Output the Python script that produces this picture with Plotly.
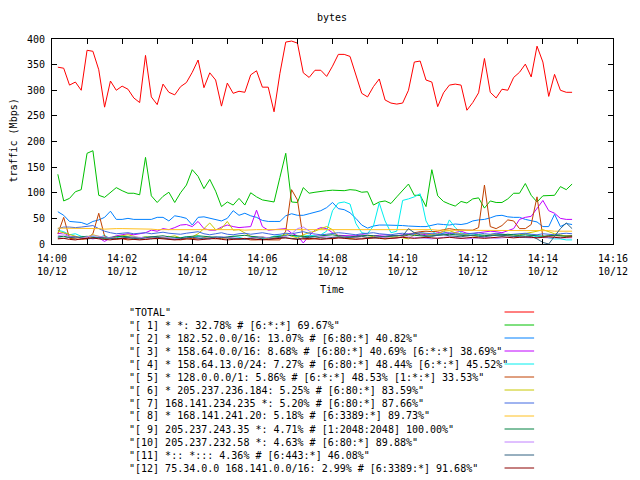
import pandas as pd
import plotly.graph_objects as go

# ---------------- data ----------------
times = pd.date_range("2009-10-12 14:00:10", periods=89, freq="10s")

names = [
    "TOTAL",
    "[ 1] * *: 32.78% # [6:*:*] 69.67%",
    "[ 2] * 182.52.0.0/16: 13.07% # [6:80:*] 40.82%",
    "[ 3] * 158.64.0.0/16: 8.68% # [6:80:*] 40.69% [6:*:*] 38.69%",
    "[ 4] * 158.64.13.0/24: 7.27% # [6:80:*] 48.44% [6:*:*] 45.52%",
    "[ 5] * 128.0.0.0/1: 5.86% # [6:*:*] 48.53% [1:*:*] 33.53%",
    "[ 6] * 205.237.236.184: 5.25% # [6:80:*] 83.59%",
    "[ 7] 168.141.234.235 *: 5.20% # [6:80:*] 87.66%",
    "[ 8] * 168.141.241.20: 5.18% # [6:3389:*] 89.73%",
    "[ 9] 205.237.243.35 *: 4.71% # [1:2048:2048] 100.00%",
    "[10] 205.237.232.58 *: 4.63% # [6:80:*] 89.88%",
    "[11] *:: *::: 4.36% # [6:443:*] 46.08%",
    "[12] 75.34.0.0 168.141.0.0/16: 2.99% # [6:3389:*] 91.68%",
]

total = [345,343,310,316,300,378,376,340,267,318, 300,308,302,285,276,368,287,272,312,296,
         291,307,315,335,359,305,334,320,269,314, 294,298,296,330,338,306,306,258,333,394,
         396,392,334,325,339,339,327,347,370,370, 366,329,294,287,307,322,281,275,273,275,
         300,355,357,320,316,268,295,310,312,310, 261,276,295,362,296,285,302,300,325,335,
         351,326,386,355,288,331,300,296,296]
s1 = [136,84,89,102,106,177,182,95,91,100, 110,104,99,99,96,169,94,81,93,101,
      81,100,115,145,132,108,126,103,73,82, 76,89,76,100,92,86,84,82,130,177,
      82,81,110,99,101,103,104,105,104,104, 106,105,101,102,76,82,84,79,92,104,
      117,95,95,73,145,94,83,78,74,83, 80,88,90,70,84,81,81,88,99,99,
      118,95,82,94,95,95,112,106,117]
s2 = [63,56,44,43,42,38,44,47,52,64, 48,48,50,48,48,48,48,52,52,45,
      55,53,50,37,52,53,50,48,45,50, 65,56,60,55,52,46,44,44,44,55,
      59,56,56,59,62,65,71,81,69,67, 61,50,37,31,35,37,37,37,37,36,
      35,34,34,34,36,39,38,37,39,38, 40,45,47,48,51,55,56,53,52,52,
      48,46,43,34,34,58,34,40,38]
s3 = [20,22,15,13,12,12,10,12,5,12, 16,18,20,18,20,22,27,25,30,28,
      32,37,38,34,44,30,27,27,33,37, 34,32,33,34,66,34,27,28,29,30,
      21,16,2,16,27,32,30,22,17,16, 16,16,18,17,16,17,18,17,16,18,
      20,19,20,18,19,22,24,20,22,25, 21,20,22,23,25,24,22,26,30,48,
      52,54,70,85,65,60,50,48,48]
s4 = [27,24,18,20,15,14,15,12,17,10, 12,15,13,10,12,14,10,13,12,15,
      11,12,14,12,15,12,10,13,14,12, 15,13,10,12,14,11,12,15,16,18,
      16,14,15,17,16,18,25,65,80,82, 78,40,22,20,35,80,45,22,25,85,
      88,92,98,45,25,18,20,47,32,22, 18,20,17,15,18,16,15,17,18,16,
      15,17,14,16,12,10,10,8,8]
s5 = [20,52,11,10,9,10,20,60,15,10, 9,10,8,9,10,9,11,10,12,10,
      9,8,10,11,10,12,11,10,11,12, 10,9,10,8,8,9,8,8,8,25,
      106,86,10,9,10,12,11,10,12,13, 11,12,10,11,12,13,12,11,12,14,
      18,22,24,25,24,25,28,30,28,27, 27,27,32,115,34,30,36,47,45,30,
      30,38,92,14,16,16,16,16,16]
s6 = [25,22,18,15,12,14,18,15,12,10, 14,16,18,15,12,14,13,15,12,14,
      16,12,10,14,20,30,41,28,30,44, 27,28,22,15,12,14,10,12,14,20,
      15,12,18,22,25,30,34,28,14,12, 10,12,11,13,15,12,10,12,14,12,
      10,18,22,20,18,20,25,26,22,20, 18,15,14,16,18,20,18,16,15,18,
      20,22,25,28,24,20,18,15,14]
s7 = [30,33,33,32,33,35,36,30,25,22, 20,21,22,20,21,22,20,22,23,21,
      20,19,21,22,24,20,18,20,22,19, 18,20,21,19,20,22,20,18,19,21,
      20,22,24,21,20,18,19,20,22,21, 19,18,20,21,22,20,19,18,20,21,
      19,20,22,21,20,19,21,22,20,19, 20,21,22,20,19,21,20,18,19,20,
      21,19,18,20,19,18,20,21,20]
s8 = [31,31,30,30,30,30,30,30,29,30, 30,30,30,30,29,29,29,28,28,28,
      29,29,29,28,28,28,28,28,28,28, 28,28,27,28,28,28,28,28,29,29,
      29,29,28,28,28,28,28,28,28,28, 28,28,29,29,29,28,28,28,28,28,
      29,29,29,28,28,27,27,27,27,27, 27,27,27,27,27,27,26,26,26,26,
      27,27,27,26,26,25,25,25,25]
s9 = [14,15,13,12,14,15,13,12,11,13, 14,15,14,13,12,13,14,15,16,14,
      13,12,14,15,16,15,14,13,12,14, 15,16,17,15,14,13,12,14,15,16,
      17,16,15,14,15,16,17,18,16,15, 14,15,16,17,16,15,14,15,16,17,
      18,17,16,15,16,17,18,19,18,17, 16,17,18,17,16,17,18,19,18,17,
      18,17,16,15,16,17,16,15,16]
s10 = [16,18,15,13,12,14,16,15,13,12, 11,10,12,14,13,12,11,13,14,12,
       11,10,12,13,12,11,10,12,14,13, 12,11,10,12,13,14,12,11,13,15,
       20,30,33,25,18,15,14,13,12,14, 13,12,11,12,13,14,12,11,12,13,
       14,13,12,11,10,12,13,14,12,11, 10,11,12,13,12,11,12,13,14,13,
       12,12,13,12,12,12,12,12,12]
s11 = [12,11,13,14,12,10,11,13,12,11, 10,12,13,11,10,12,14,13,11,10,
       9,11,12,13,11,10,12,14,13,12, 11,10,9,11,12,10,9,11,13,12,
       11,10,12,13,14,12,11,13,14,12, 13,14,15,13,12,14,15,16,17,16,
       30,22,18,16,15,17,18,16,15,14, 16,17,15,14,16,18,17,16,15,14,
       13,15,10,3,0,15,30,41,30]
s12 = [10,11,9,8,10,11,12,10,9,8, 10,11,10,9,8,9,10,11,10,9,
       8,9,10,9,8,9,10,11,9,8, 9,10,11,10,9,8,9,10,11,12,
       10,9,10,11,10,9,10,11,12,11, 10,9,10,11,12,11,10,11,12,13,
       12,11,12,13,12,11,12,13,12,11, 12,13,12,11,12,13,14,13,12,13,
       14,13,12,13,14,13,12,13,14]

series = [total, s1, s2, s3, s4, s5, s6, s7, s8, s9, s10, s11, s12]
colors = ["#ff0000", "#00c000", "#0080ff", "#c000ff", "#00eeee", "#c04000",
          "#c8c800", "#4169e1", "#ffc020", "#008040", "#c080ff", "#306080", "#8b0000"]

tick_minutes = list(range(0, 17))
tick_vals = [pd.Timestamp("2009-10-12 14:00") + pd.Timedelta(minutes=m) for m in tick_minutes]
tick_text = [f"14:{m:02d}<br>10/12" if m % 2 == 0 else "" for m in tick_minutes]
y_ticks = [0, 50, 100, 150, 200, 250, 300, 350, 400]

# ---------------- layout geometry (pixels) ----------------
W, H = 640, 480
L, R, T, B = 52, 621, 39, 244
FONT = "DejaVu Sans Mono"
FS = 10


def px(xp):
    return (xp - L) / (R - L)


def py(yp):
    return (B - yp) / (B - T)


fig = go.Figure()
for name, vals, col in zip(names, series, colors):
    fig.add_trace(go.Scatter(x=times, y=vals, mode="lines", name=name,
                             line=dict(color=col, width=1), showlegend=False))

annotations = [
    dict(text="bytes", x=px(336), y=py(18), xref="paper", yref="paper",
         showarrow=False, xanchor="center", yanchor="middle",
         font=dict(family=FONT, size=FS, color="black")),
    dict(text="Time", x=px(336), y=py(289), xref="paper", yref="paper",
         showarrow=False, xanchor="center", yanchor="middle",
         font=dict(family=FONT, size=FS, color="black")),
    dict(text="traffic (Mbps)", x=px(12), y=py(141), xref="paper", yref="paper",
         showarrow=False, xanchor="center", yanchor="middle", textangle=-90,
         font=dict(family=FONT, size=FS, color="black")),
]
shapes = []
for k, (name, col) in enumerate(zip(names, colors)):
    yrow = 312 + 13 * k
    annotations.append(dict(text='"' + name + '"', x=px(128), y=py(yrow),
                            xref="paper", yref="paper", showarrow=False,
                            xanchor="left", yanchor="middle",
                            font=dict(family=FONT, size=FS, color="black")))
    shapes.append(dict(type="line", xref="paper", yref="paper",
                       x0=px(511), x1=px(541), y0=py(yrow), y1=py(yrow),
                       line=dict(color=col, width=1)))

fig.update_layout(
    width=W, height=H,
    margin=dict(l=L, r=W - R, t=T, b=H - B, pad=0),
    paper_bgcolor="white", plot_bgcolor="white",
    font=dict(family=FONT, size=FS, color="black"),
    annotations=annotations, shapes=shapes,
    showlegend=False,
)
fig.update_xaxes(
    type="date",
    range=[tick_vals[0], tick_vals[-1]],
    tickmode="array", tickvals=tick_vals, ticktext=tick_text,
    ticks="inside", ticklen=5, tickcolor="black", tickwidth=1,
    ticklabelstandoff=5,
    showline=True, linecolor="black", linewidth=1, mirror="ticks",
    showgrid=False, zeroline=False,
    tickfont=dict(family=FONT, size=FS, color="black"),
)
fig.update_yaxes(
    range=[0, 400],
    tickmode="array", tickvals=y_ticks,
    ticks="inside", ticklen=5, tickcolor="black", tickwidth=1,
    ticklabelstandoff=4,
    showline=True, linecolor="black", linewidth=1, mirror="ticks",
    showgrid=False, zeroline=False,
    tickfont=dict(family=FONT, size=FS, color="black"),
)

fig.write_html("out.html")
